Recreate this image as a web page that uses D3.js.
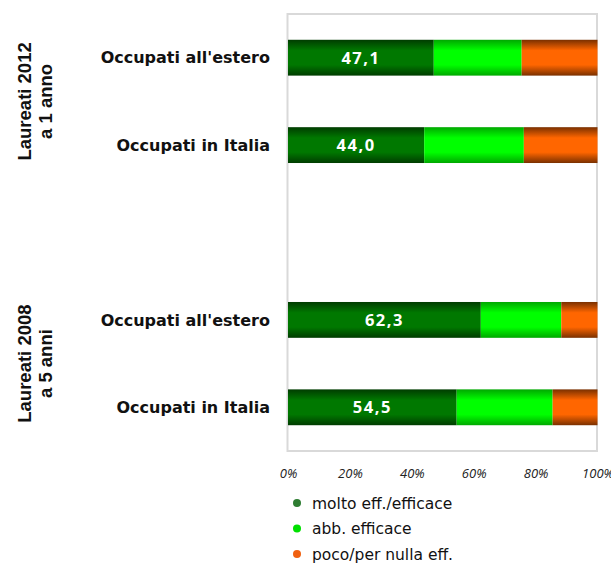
<!DOCTYPE html>
<html><head><meta charset="utf-8">
<script src="https://cdn.jsdelivr.net/npm/d3@7"></script>
<style>body{margin:0;background:#fff}svg{display:block}</style>
</head><body>
<script>
const categories = ["2012_estero","2012_italia","gap","2008_estero","2008_italia"];
const catLabels = ["Occupati all'estero","Occupati in Italia","","Occupati all'estero","Occupati in Italia"];
const seriesNames = ["molto eff./efficace","abb. efficace","poco/per nulla eff."];
const molto = [47.1, 44.0, null, 62.3, 54.5];
const abb =   [28.4, 32.2, null, 26.0, 31.0];
const poco =  [24.5, 23.8, null, 11.7, 14.5];
const dataLabels = ["47,1","44,0","","62,3","54,5"];
const tickValues = [0,20,40,60,80,100];
const groupLabels = [["Laureati 2012","a 1 anno"],["Laureati 2008","a 5 anni"]];
const groupCats = [["2012_estero","2012_italia"],["2008_estero","2008_italia"]];

const W=611,H=563;
const pL=288,pR=597.5,pT=14,pB=451;
const FONT="'DejaVu Sans', sans-serif";
const FONT2="'Open Sans', sans-serif";
const FONT3="'Liberation Sans', Arial, sans-serif";
const svg=d3.select("body").append("svg").attr("width",W).attr("height",H);
const defs=svg.append("defs");
function grad(id,edge,mid){
  const g=defs.append("linearGradient").attr("id",id).attr("x1",0).attr("y1",0).attr("x2",0).attr("y2",1);
  [[0,edge],[0.3,mid],[0.7,mid],[1,edge]].forEach(s=>g.append("stop").attr("offset",s[0]).attr("stop-color",s[1]));
}
grad("g0","#003c00","#007800");
grad("g1","#00a800","#00ff00");
grad("g2","#7a3000","#ff6600");
const fills=["url(#g0)","url(#g1)","url(#g2)"];
const legendColors=["#2e7d32","#00e000","#f06010"];

const x=d3.scaleLinear().domain([0,100]).range([pL,pR]);
const y=d3.scaleBand().domain(categories).range([pT,pB]).paddingInner(0.59).paddingOuter(0.295);

// frame
svg.append("rect").attr("x",pL-0.5).attr("y",pT).attr("width",pR-pL).attr("height",pB-pT)
  .attr("fill","none").attr("stroke","#d9d9d9").attr("stroke-width",2);

const stackData=categories.map((c,i)=>({cat:c,v:[molto[i],abb[i],poco[i]]})).filter(d=>d.v[0]!=null);
stackData.forEach(d=>{
  let acc=0;
  d.v.forEach((v,k)=>{
    svg.append("rect").attr("x",x(acc)).attr("y",y(d.cat)).attr("width",x(acc+v)-x(acc)).attr("height",y.bandwidth())
      .attr("fill",fills[k]);
    acc+=v;
  });
});
// data labels
categories.forEach((c,i)=>{
  if(molto[i]==null)return;
  svg.append("text").attr("x",(x(0)+x(molto[i]))/2).attr("y",y(c)+y.bandwidth()/2).attr("dy","0.36em")
    .attr("text-anchor","middle").attr("fill","#fff").attr("font-family",FONT2)
    .attr("font-weight","bold").attr("font-size",16.5).attr("letter-spacing","1.5px").text(dataLabels[i]);
});
// category labels
categories.forEach((c,i)=>{
  if(!catLabels[i])return;
  svg.append("text").attr("x",270).attr("y",y(c)+y.bandwidth()/2).attr("dy","0.36em")
    .attr("text-anchor","end").attr("fill","#111").attr("font-family",FONT)
    .attr("font-weight","bold").attr("font-size",16).text(catLabels[i]);
});
// group labels
groupLabels.forEach((gl,j)=>{
  const cy=(y(groupCats[j][0])+y(groupCats[j][1])+y.bandwidth())/2;
  const t=svg.append("text").attr("transform",`translate(30.5,${cy}) rotate(-90)`)
    .attr("text-anchor","middle").attr("fill","#111").attr("font-family",FONT3)
    .attr("font-weight","bold").attr("font-size",18.5);
  t.append("tspan").attr("x",0).attr("y",0).text(gl[0]);
  t.append("tspan").attr("x",0).attr("y",21.5).text(gl[1]);
});
// axis
const ax=svg.append("g").attr("transform",`translate(0,${pB})`)
  .call(d3.axisBottom(x).tickValues(tickValues).tickFormat(d=>d+"%").tickSize(0).tickPadding(18));
ax.select(".domain").remove();
ax.selectAll("text").attr("font-family",FONT2).attr("font-style","italic").attr("font-size",13).attr("fill","#222");
// legend
seriesNames.forEach((s,k)=>{
  const ly=503+k*25.5;
  svg.append("circle").attr("cx",297).attr("cy",ly).attr("r",4).attr("fill",legendColors[k]);
  svg.append("text").attr("x",312).attr("y",ly).attr("dy","0.36em").attr("fill","#111")
    .attr("font-family",FONT).attr("font-size",15.5).text(s);
});
</script>
</body></html>
